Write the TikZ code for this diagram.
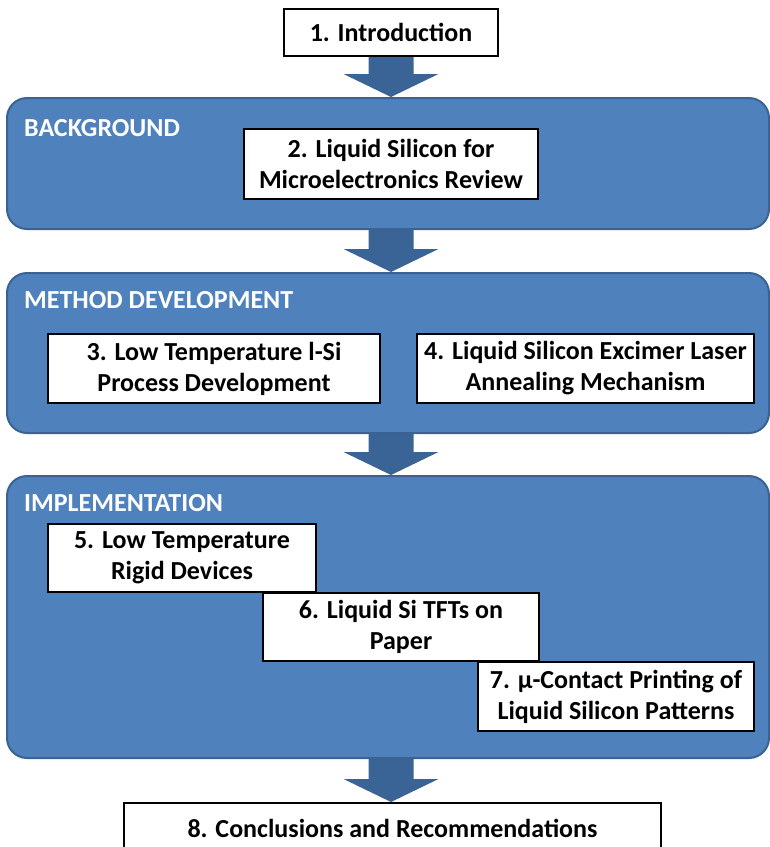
\documentclass[tikz,border=0pt]{standalone}
\usepackage{fontspec}
\setmainfont{Carlito}
\usetikzlibrary{calc}
\definecolor{panelfill}{HTML}{4F81BD}
\definecolor{paneledge}{HTML}{3A6394}
\definecolor{arrowfill}{HTML}{3B6496}
\tikzset{
  panel/.style={draw=paneledge, fill=panelfill, line width=2pt, rounded corners=20pt, anchor=north west, inner sep=0pt},
  head/.style={anchor=west, text=white, font=\fontsize{26}{31}\selectfont\bfseries, inner sep=0pt},
  wbox/.style={draw=black, fill=white, line width=2pt, align=center, inner sep=0pt, anchor=north west,
    font=\fontsize{26}{31}\selectfont\bfseries},
  blockarr/.style={fill=arrowfill}
}
\newcommand\blockarrow[2]{%
  \path (#1) coordinate (bas) (#2) coordinate (tipc);
  \fill[blockarr] ($(bas)+(-22.5,0)$) -- ($(tipc)+(-22.5,23)$) -- ($(tipc)+(-47.5,23)$) -- (tipc)
    -- ($(tipc)+(47.5,23)$) -- ($(tipc)+(22.5,23)$) -- ($(bas)+(22.5,0)$) -- cycle;}
\begin{document}
\begin{tikzpicture}[x=1pt,y=1pt]
\useasboundingbox (0,0) rectangle (770,-847);
% panels
\node[panel, minimum width=762pt, minimum height=131pt] (bg) at (6,-97) {};
\node[panel, minimum width=762pt, minimum height=160pt] (md) at (6,-272) {};
\node[panel, minimum width=762pt, minimum height=282pt] (im) at (6,-475) {};
\node[head] (hbg) at (24,-128) {BACKGROUND};
\node[head] (hmd) at (24,-300) {METHOD DEVELOPMENT};
\node[head] (him) at (24,-503) {IMPLEMENTATION};
% boxes
\node[wbox, minimum width=214pt, minimum height=47pt] (b1) at (283,-8) {1. Introduction};
\node[wbox, minimum width=294pt, minimum height=70pt] (b2) at (243,-128) {2. Liquid Silicon for\\Microelectronics Review};
\node[wbox, minimum width=332pt, minimum height=69pt] (b3) at (47,-333) {3. Low Temperature l-Si\\Process Development};
\node[wbox, minimum width=337pt, minimum height=69pt] (b4) at (416,-333) {4. Liquid Silicon Excimer Laser\\Annealing Mechanism};
\node[wbox, minimum width=268pt, minimum height=68pt] (b5) at (47,-523) {5. Low Temperature\\Rigid Devices};
\node[wbox, minimum width=276pt, minimum height=68pt] (b6) at (262,-592) {6. Liquid Si TFTs on\\Paper};
\node[wbox, minimum width=276pt, minimum height=69pt] (b7) at (477,-661) {7. µ-Contact Printing of\\Liquid Silicon Patterns};
\node[wbox, minimum width=537pt, minimum height=50pt] (b8) at (123,-802) {8. Conclusions and Recommendations};
% arrows
\path (391,0) coordinate (ax);
\blockarrow{b1.south -| ax}{bg.north -| ax}
\blockarrow{bg.south -| ax}{md.north -| ax}
\blockarrow{md.south -| ax}{im.north -| ax}
\blockarrow{im.south -| ax}{b8.north -| ax}
\end{tikzpicture}
\end{document}
